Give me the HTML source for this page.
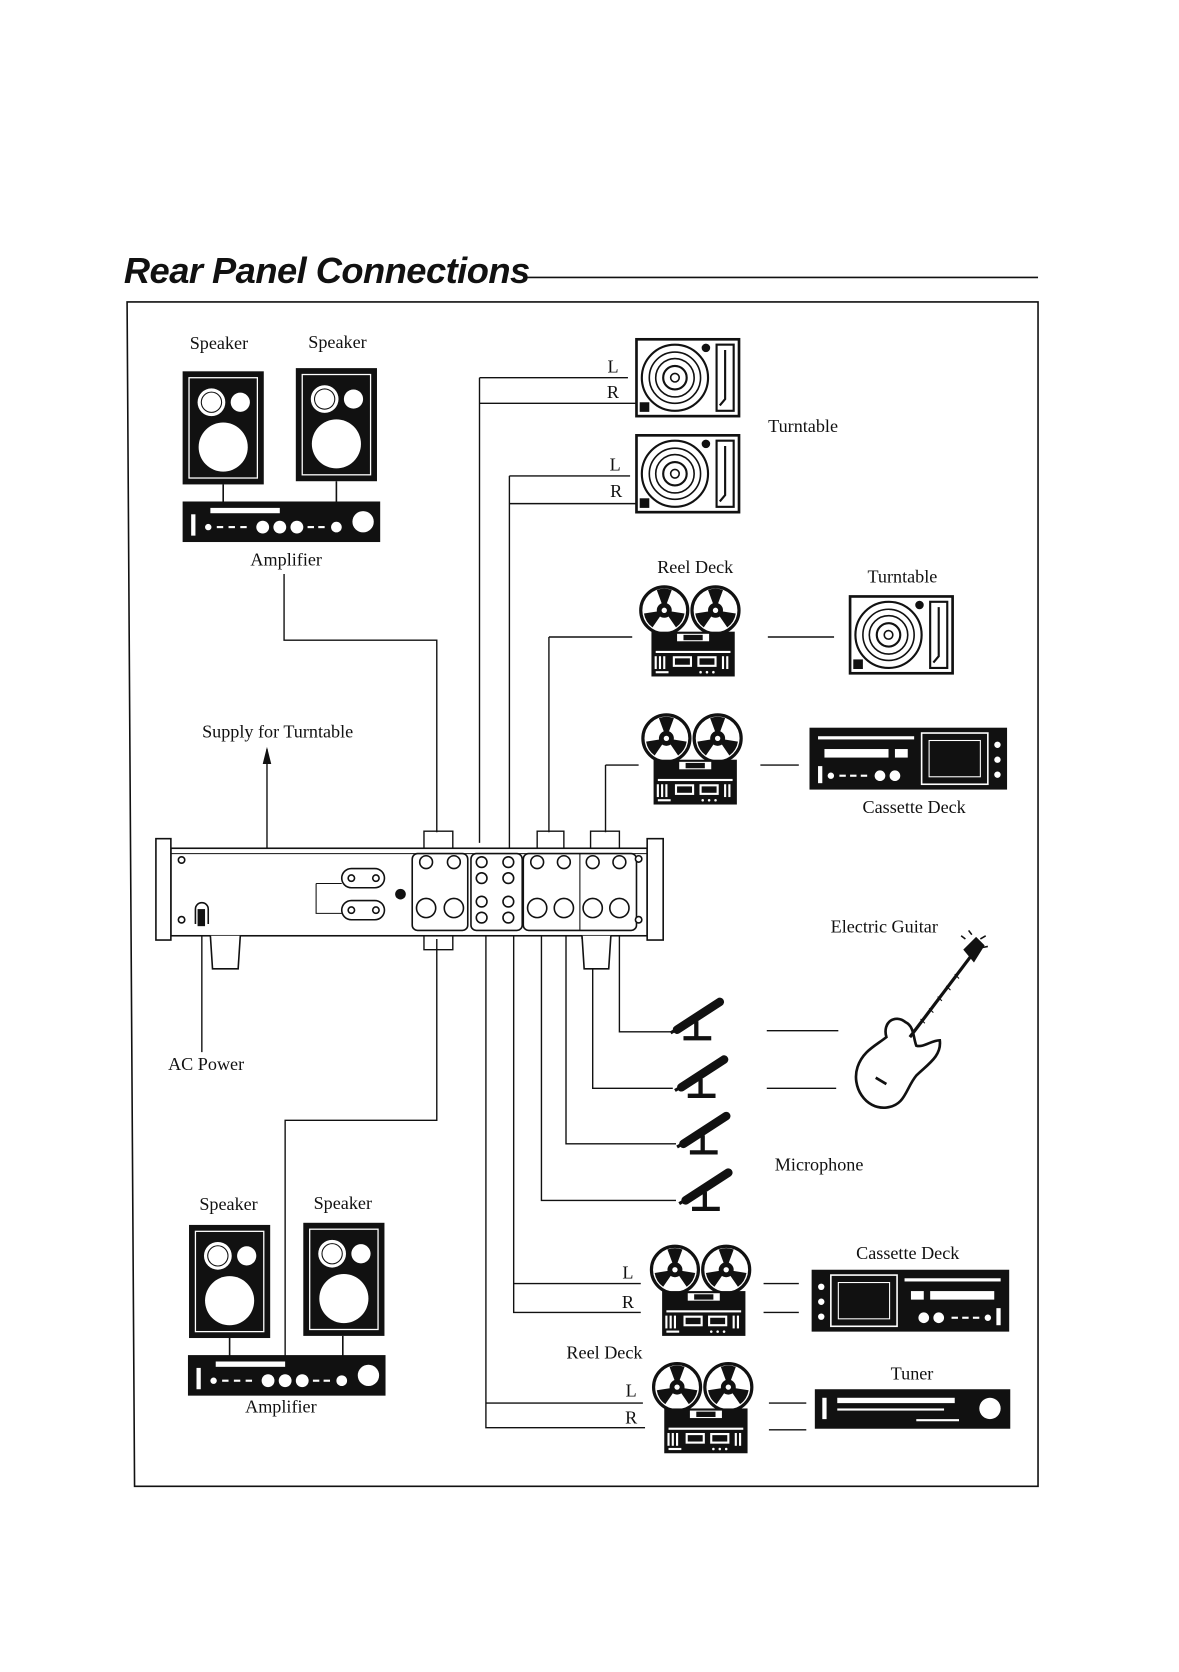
<!DOCTYPE html>
<html><head><meta charset="utf-8"><style>
html,body{margin:0;padding:0;background:#fff}
svg{display:block}
text{font-family:"Liberation Serif",serif;font-size:17px;fill:#111}
</style></head><body>
<svg width="1179" height="1672" viewBox="0 0 1104 1567" preserveAspectRatio="none" xmlns="http://www.w3.org/2000/svg">
<defs>
<g id="spk">
<rect x="0" y="0" width="76" height="106" fill="#111"/>
<rect x="6" y="6" width="64" height="94" fill="none" stroke="#fff" stroke-width="1.2"/>
<circle cx="27" cy="29" r="13" fill="#fff"/><circle cx="27" cy="29" r="10" fill="#111"/><circle cx="27" cy="29" r="9" fill="#fff"/>
<circle cx="54" cy="29" r="9" fill="#fff"/>
<circle cx="38" cy="71" r="23" fill="#fff"/>
</g>
<g id="amp">
<rect x="0" y="0" width="185" height="38" fill="#111"/>
<rect x="26" y="6" width="65" height="5" fill="#fff"/>
<rect x="8" y="12" width="4" height="20" fill="#fff"/>
<g fill="#fff"><circle cx="24" cy="24" r="3"/><rect x="32" y="23" width="6" height="2"/><rect x="43" y="23" width="6" height="2"/><rect x="54" y="23" width="6" height="2"/>
<circle cx="75" cy="24" r="6"/><circle cx="91" cy="24" r="6"/><circle cx="107" cy="24" r="6"/><rect x="117" y="23" width="6" height="2"/><rect x="127" y="23" width="6" height="2"/><circle cx="144" cy="24" r="5"/><circle cx="169" cy="19" r="10"/></g>
</g>
<g id="tt">
<rect x="0" y="0" width="96" height="72" fill="#fff" stroke="#111" stroke-width="2.5"/>
<circle cx="36" cy="36" r="31" fill="none" stroke="#111" stroke-width="2"/>
<circle cx="36" cy="36" r="24" fill="none" stroke="#111" stroke-width="1.5"/>
<circle cx="36" cy="36" r="18" fill="none" stroke="#111" stroke-width="1.5"/>
<circle cx="36" cy="36" r="11" fill="none" stroke="#111" stroke-width="2"/>
<circle cx="36" cy="36" r="4" fill="none" stroke="#111" stroke-width="1.5"/>
<circle cx="65" cy="8" r="4" fill="#111"/>
<rect x="75" y="5" width="16" height="62" fill="none" stroke="#111" stroke-width="2"/>
<path d="M83 10 V56 L78 62" stroke="#111" stroke-width="2" fill="none"/>
<rect x="3" y="59" width="9" height="9" fill="#111"/>
</g>
<g id="reel1">
<circle cx="0" cy="0" r="22" fill="#fff" stroke="#111" stroke-width="3"/>
<path d="M0 0 L-7 -19 A20 20 0 0 1 7 -19 Z M0 0 L19 3 A20 20 0 0 1 11 16 Z M0 0 L-11 16 A20 20 0 0 1 -19 3 Z" fill="#111"/>
<circle cx="0" cy="0" r="7" fill="#111"/><circle cx="0" cy="0" r="2.5" fill="#fff"/>
</g>
<g id="reel">
<use href="#reel1" x="26" y="24"/><use href="#reel1" x="74" y="24"/>
<rect x="14" y="44" width="78" height="42" fill="#111"/>
<rect x="38" y="46" width="30" height="7" fill="#fff"/><rect x="44" y="47" width="18" height="5" fill="#111"/>
<rect x="18" y="62" width="70" height="2" fill="#fff"/>
<rect x="34" y="67" width="18" height="10" fill="#fff"/><rect x="57" y="67" width="18" height="10" fill="#fff"/>
<rect x="36" y="69" width="14" height="6" fill="#111"/><rect x="59" y="69" width="14" height="6" fill="#111"/>
<g fill="#fff"><rect x="17" y="67" width="2" height="12"/><rect x="21" y="67" width="2" height="12"/><rect x="25" y="67" width="2" height="12"/><rect x="80" y="67" width="2" height="12"/><rect x="84" y="67" width="2" height="12"/><circle cx="60" cy="82" r="1.2"/><circle cx="66" cy="82" r="1.2"/><circle cx="72" cy="82" r="1.2"/><rect x="18" y="81" width="12" height="2"/></g>
</g>
<g id="cass">
<rect x="0" y="0" width="185" height="58" fill="#111"/>
<rect x="8" y="8" width="90" height="3" fill="#fff"/>
<rect x="14" y="20" width="60" height="8" fill="#fff"/><rect x="80" y="20" width="12" height="8" fill="#fff"/>
<rect x="105" y="5" width="62" height="48" fill="none" stroke="#fff" stroke-width="1.5"/>
<rect x="112" y="12" width="48" height="34" fill="none" stroke="#fff" stroke-width="1"/>
<rect x="8" y="36" width="4" height="16" fill="#fff"/>
<g fill="#fff"><circle cx="20" cy="45" r="3"/><rect x="28" y="44" width="6" height="2"/><rect x="38" y="44" width="6" height="2"/><rect x="48" y="44" width="6" height="2"/><circle cx="66" cy="45" r="5"/><circle cx="80" cy="45" r="5"/><circle cx="176" cy="16" r="3"/><circle cx="176" cy="30" r="3"/><circle cx="176" cy="44" r="3"/></g>
</g>
<g id="mic">
<path d="M8 30 L48 4" stroke="#111" stroke-width="8" stroke-linecap="round"/>
<path d="M2 33 L14 26" stroke="#111" stroke-width="3"/>
<path d="M26 22 L26 38 M14 38 H40" stroke="#111" stroke-width="4"/>
</g>
</defs>

<text x="116" y="265" style="font-family:'Liberation Sans',sans-serif;font-weight:bold;font-style:italic;font-size:34px;letter-spacing:-0.5px">Rear Panel Connections</text>
<line x1="492" y1="260" x2="972" y2="260" stroke="#111" stroke-width="1.5"/>

<path d="M119 283 H972 V1393 H126 Z" fill="none" stroke="#111" stroke-width="1.5"/>

<g stroke="#111" stroke-width="1.3" fill="none">
<path d="M266 538 V600 H409 V780"/>
<path d="M250 702 V840 H296"/>
<path d="M189 860 V986"/>
<path d="M409 880 V1050 H267 V1272"/>
<path d="M449 354 H588 M449 378 H598 M449 354 V790 M455 870 V1338 H604 M455 1315 H602"/>
<path d="M477 446 H590 M477 472 H598 M477 446 V800 M481 870 V1230 H600 M481 1203 H600"/>
<path d="M514 597 H592 M514 597 V780 M719 597 H781"/>
<path d="M567 717 H598 M567 717 V780 M712 717 H748"/>
<path d="M580 870 V967 H628 M555 870 V1020 H630 M530 870 V1072 H633 M507 870 V1125 H633"/>
<path d="M718 966 H785 M718 1020 H783"/>
<path d="M715 1203 H748 M715 1230 H748 M720 1315 H755 M720 1340 H755"/>
<path d="M397 800 V779 H424 V800 M397 870 V890 H424 V870 M503 800 V779 H528 V800 M553 800 V779 H580 V800 M545 870 V880"/>
</g>

<g stroke="#111" fill="#fff" stroke-width="1.5">
<rect x="160" y="795" width="446" height="82"/>
<line x1="160" y1="800" x2="606" y2="800" stroke-width="1"/>
<rect x="146" y="786" width="14" height="95"/>
<rect x="606" y="786" width="15" height="95"/>
<path d="M197 877 L199 908 H223 L225 877"/>
<path d="M545 877 L547 908 H570 L572 877"/>
<rect x="386" y="800" width="52" height="72" rx="5"/>
<rect x="441" y="800" width="48" height="72" rx="5"/>
<rect x="490" y="800" width="106" height="72" rx="5"/>
<line x1="543" y1="800" x2="543" y2="872" stroke-width="1"/>
<rect x="320" y="814" width="40" height="18" rx="9"/>
<rect x="320" y="844" width="40" height="18" rx="9"/>
<path d="M183 866 V852 A6 6 0 0 1 195 852 V866" fill="#fff"/>
</g>
<rect x="185" y="852" width="7" height="16" fill="#111"/>
<path d="M296 828 H320 M296 828 V856 H320" stroke="#111" fill="none"/>
<circle cx="375" cy="838" r="5" fill="#111"/>
<g fill="#fff" stroke="#111" stroke-width="1.5">
<circle cx="399" cy="808" r="6"/><circle cx="425" cy="808" r="6"/>
<circle cx="399" cy="851" r="9"/><circle cx="425" cy="851" r="9"/>
<circle cx="451" cy="808" r="5"/><circle cx="476" cy="808" r="5"/><circle cx="451" cy="823" r="5"/><circle cx="476" cy="823" r="5"/>
<circle cx="451" cy="845" r="5"/><circle cx="476" cy="845" r="5"/><circle cx="451" cy="860" r="5"/><circle cx="476" cy="860" r="5"/>
<circle cx="503" cy="808" r="6"/><circle cx="528" cy="808" r="6"/><circle cx="555" cy="808" r="6"/><circle cx="580" cy="808" r="6"/>
<circle cx="503" cy="851" r="9"/><circle cx="528" cy="851" r="9"/><circle cx="555" cy="851" r="9"/><circle cx="580" cy="851" r="9"/>
<circle cx="329" cy="823" r="3"/><circle cx="352" cy="823" r="3"/><circle cx="329" cy="853" r="3"/><circle cx="352" cy="853" r="3"/>
<circle cx="170" cy="806" r="3"/><circle cx="170" cy="862" r="3"/><circle cx="598" cy="805" r="3"/><circle cx="598" cy="862" r="3"/>
</g>

<text x="205" y="327" text-anchor="middle">Speaker</text>
<text x="316" y="326" text-anchor="middle">Speaker</text>
<use href="#spk" x="171" y="348"/><use href="#spk" x="277" y="345"/>
<path d="M209 454 V470 M315 451 V470" stroke="#111" stroke-width="1.5"/>
<use href="#amp" x="171" y="470"/>
<text x="268" y="530" text-anchor="middle">Amplifier</text>

<text x="260" y="691" text-anchor="middle">Supply for Turntable</text>
<path d="M250 700 L246 716 L254 716 Z" fill="#111"/>
<text x="193" y="1003" text-anchor="middle">AC Power</text>

<text x="214" y="1134" text-anchor="middle">Speaker</text>
<text x="321" y="1133" text-anchor="middle">Speaker</text>
<use href="#spk" x="177" y="1148"/><use href="#spk" x="284" y="1146"/>
<path d="M215 1254 V1271 M321 1252 V1271" stroke="#111" stroke-width="1.5"/>
<use href="#amp" x="176" y="1270"/>
<text x="263" y="1324" text-anchor="middle">Amplifier</text>

<text x="574" y="349" text-anchor="middle">L</text><text x="574" y="373" text-anchor="middle">R</text>
<use href="#tt" x="596" y="318"/>
<text x="576" y="441" text-anchor="middle">L</text><text x="577" y="466" text-anchor="middle">R</text>
<use href="#tt" x="596" y="408"/>
<text x="752" y="405" text-anchor="middle">Turntable</text>

<text x="651" y="537" text-anchor="middle">Reel Deck</text>
<use href="#reel" x="596" y="548"/>
<text x="845" y="546" text-anchor="middle">Turntable</text>
<use href="#tt" x="796" y="559"/>

<use href="#reel" x="598" y="668"/>
<use href="#cass" x="758" y="682"/>
<text x="856" y="762" text-anchor="middle">Cassette Deck</text>

<text x="828" y="874" text-anchor="middle">Electric Guitar</text>
<g stroke="#111" fill="none" stroke-width="2.5">
<path d="M848 958 C838 950 826 958 830 972 C820 980 808 985 803 1000 C797 1018 810 1040 830 1038 C848 1036 848 1020 858 1008 C868 998 882 990 880 975 C872 975 865 982 858 980 C855 972 856 962 848 958 Z" fill="#fff"/>
<path d="M852 972 L910 895" stroke-width="3"/>
<path d="M820 1010 L830 1016"/>
</g>
<g stroke="#111" stroke-width="1"><path d="M862 955 l4 4 M870 945 l4 4 M878 934 l4 4 M886 924 l4 4 M894 913 l4 4"/></g>
<path d="M902 890 L914 878 L922 886 L912 902 Z" fill="#111"/>
<path d="M904 880 l-4 -3 M910 876 l-3 -4 M918 880 l5 -3 M920 888 l5 -1" stroke="#111" stroke-width="1.5"/>

<use href="#mic" x="626" y="935"/>
<use href="#mic" x="630" y="989"/>
<use href="#mic" x="632" y="1042"/>
<use href="#mic" x="634" y="1095"/>
<text x="767" y="1097" text-anchor="middle">Microphone</text>

<text x="588" y="1198" text-anchor="middle">L</text><text x="588" y="1226" text-anchor="middle">R</text>
<use href="#reel" x="606" y="1166"/>
<text x="850" y="1180" text-anchor="middle">Cassette Deck</text>
<g transform="translate(945 1190) scale(-1 1)"><use href="#cass" x="0" y="0"/></g>

<text x="566" y="1273" text-anchor="middle">Reel Deck</text>
<text x="591" y="1309" text-anchor="middle">L</text><text x="591" y="1334" text-anchor="middle">R</text>
<use href="#reel" x="608" y="1276"/>
<text x="854" y="1293" text-anchor="middle">Tuner</text>
<g>
<rect x="763" y="1302" width="183" height="37" fill="#111"/>
<rect x="770" y="1310" width="4" height="20" fill="#fff"/>
<rect x="784" y="1310" width="110" height="5" fill="#fff"/><rect x="784" y="1320" width="100" height="2" fill="#fff"/>
<rect x="858" y="1330" width="40" height="2" fill="#fff"/>
<circle cx="927" cy="1320" r="10" fill="#fff"/>
</g>
</svg>
</body></html>
